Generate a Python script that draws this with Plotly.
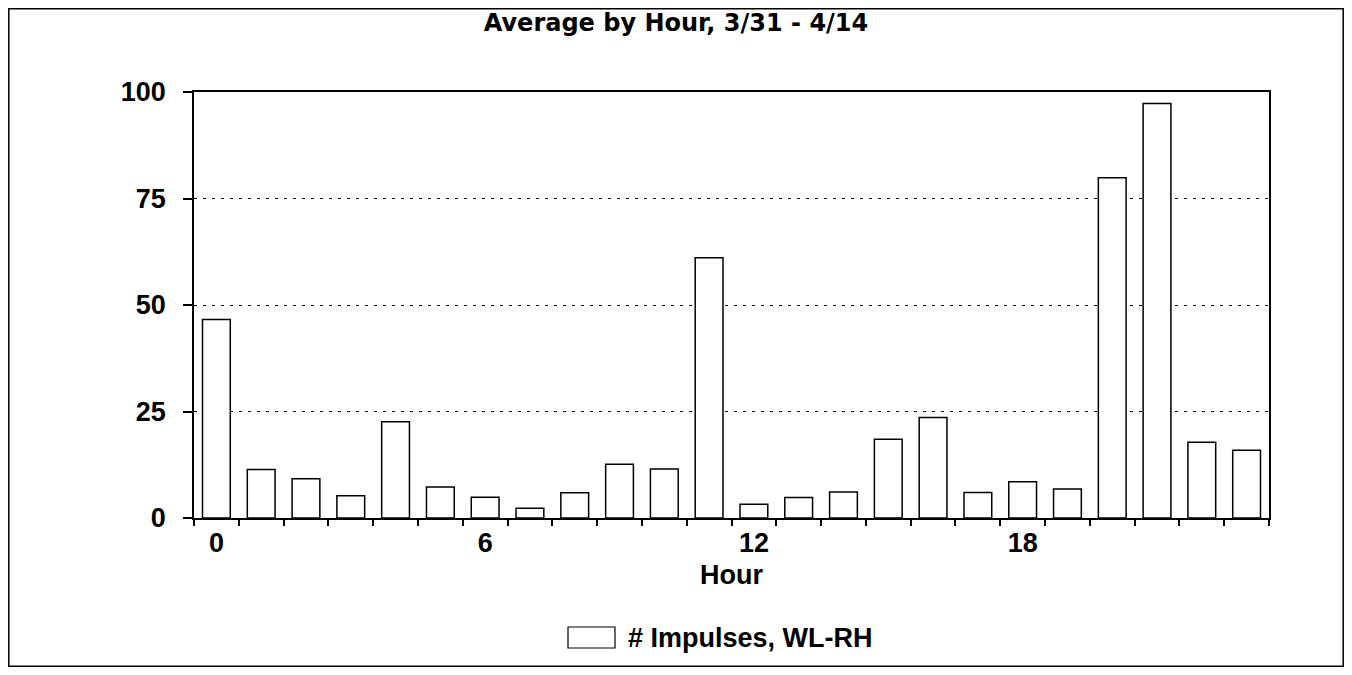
import plotly.graph_objects as go

hours = list(range(24))
impulses = [46.6, 11.4, 9.2, 5.2, 22.6, 7.3, 4.9, 2.3, 5.9, 12.6, 11.5, 61.1,
            3.2, 4.8, 6.1, 18.5, 23.6, 6.0, 8.5, 6.8, 79.9, 97.3, 17.8, 15.9]
x_tick_vals = [0, 6, 12, 18]
x_tick_text = ["0", "6", "12", "18"]
y_tick_vals = [0, 25, 50, 75, 100]
series_name = "# Impulses, WL-RH"
title_text = "Average by Hour, 3/31 - 4/14"

# the page has a default 8px body margin; keep the figure inside the viewport
OFF = 8
W, H = 1352 - 2 * OFF, 675 - 2 * OFF
L, R, T, B = 194 - OFF, 1269 - OFF, 92 - OFF, 518 - OFF

def px_x(p):
    f = min(max(p - OFF, 0.8), W - 0.8)
    return (f - L) / (R - L)

def px_y(p):
    f = min(max(p - OFF, 0.8), H - 0.8)
    return (B - f) / (B - T)

axis_font = dict(family="Liberation Sans, Arial, sans-serif", size=27, color="black")

fig = go.Figure()
fig.add_trace(go.Bar(
    x=hours, y=impulses, name=series_name, width=0.62,
    marker=dict(color="white", line=dict(color="black", width=1.5)),
    showlegend=False,
))

fig.update_layout(
    width=W, height=H,
    margin=dict(l=L, r=W - R, t=T, b=H - B, pad=0),
    paper_bgcolor="white", plot_bgcolor="white",
    title=dict(text="<b>" + title_text + "</b>", x=(676 - OFF) / W, xref="container", xanchor="center",
               y=1 - (23 - OFF) / H, yref="container", yanchor="middle",
               font=dict(family="DejaVu Sans, sans-serif", size=24, color="black")),
    xaxis=dict(range=[-0.5, 23.5], tickmode="array", tickvals=x_tick_vals,
               ticktext=["<b>%s</b>" % t for t in x_tick_text], ticks="",
               tickfont=axis_font, showgrid=False, zeroline=False,
               showline=True, linecolor="black", linewidth=1.5, mirror=True,
               ticklabelstandoff=0,
               minor=dict(tickmode="linear", tick0=-0.5, dtick=1, ticks="outside",
                          ticklen=6, tickcolor="black", tickwidth=1.5, showgrid=False),
               title=dict(text="<b>Hour</b>", font=axis_font, standoff=8)),
    yaxis=dict(range=[0, 100], tickmode="array", tickvals=y_tick_vals,
               ticktext=["<b>%d</b>" % v for v in y_tick_vals],
               ticks="outside", ticklen=9, tickwidth=1.5, tickcolor="black",
               tickfont=axis_font, ticklabelstandoff=12,
               showgrid=True, gridcolor="black", griddash="3px,6px", gridwidth=1.2,
               zeroline=False, showline=True, linecolor="black", linewidth=1.5, mirror=True),
)

# outer frame
fig.add_shape(type="rect", xref="paper", yref="paper",
              x0=px_x(7), x1=px_x(1346), y0=px_y(673), y1=px_y(5),
              line=dict(color="black", width=1.5), fillcolor="rgba(0,0,0,0)", layer="below")
# manual legend
fig.add_shape(type="rect", xref="paper", yref="paper",
              x0=px_x(568), x1=px_x(615), y0=px_y(648), y1=px_y(627),
              line=dict(color="black", width=1.2), fillcolor="white")
fig.add_annotation(xref="paper", yref="paper", x=px_x(626), y=px_y(638),
                   xanchor="left", yanchor="middle", showarrow=False,
                   text="<b>" + series_name + "</b>", font=axis_font)

fig.write_html("out.html")
